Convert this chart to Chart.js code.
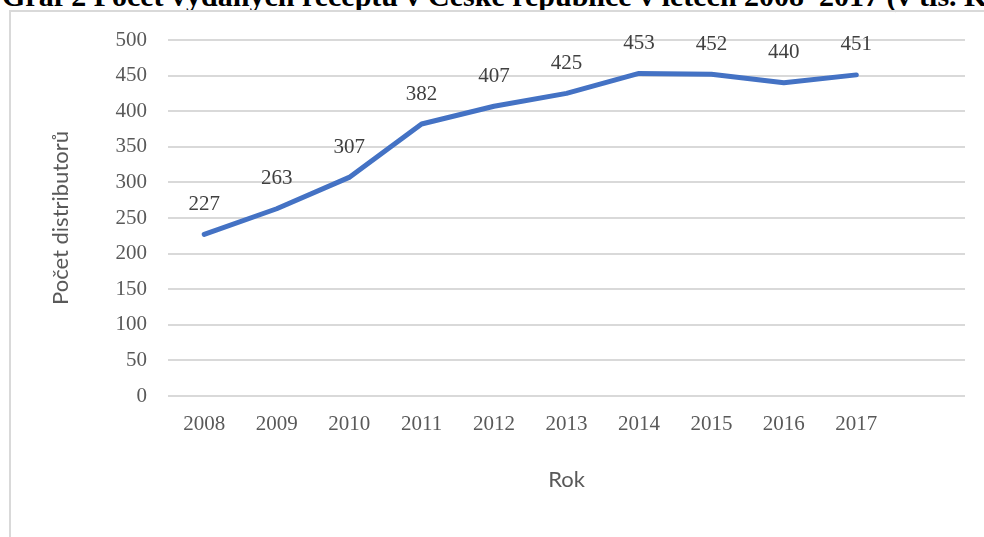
<!DOCTYPE html>
<html>
<head>
<meta charset="utf-8">
<script src="https://cdn.jsdelivr.net/npm/chart.js@4"></script>
<style>
	html, body { margin: 0; padding: 0; background: #fff; }
	#page { position: relative; width: 984px; height: 537px; overflow: hidden; }
	#heading {
		position: absolute; left: 2px; top: -19px; white-space: nowrap;
		font: bold 30px "Liberation Serif", serif; line-height: 30px; color: #000;
	}
	#frame {
		position: absolute; left: 9px; top: 10px; width: 1200px; height: 800px;
		border-left: 2px solid #d9d9d9; border-top: 2px solid #d9d9d9;
	}
	#wrap { position: absolute; left: 0; top: 0; width: 984px; height: 537px; }
</style>
</head>
<body>
<div id="page">
	<div id="heading">Graf 2 Počet vydaných receptů v České republice v letech 2008–2017 (v tis. Ks)</div>
	<div id="frame"></div>
	<div id="wrap"><canvas id="RecipeChart"></canvas></div>
</div>
<script>

// DATA

const years = ["2008", "2009", "2010", "2011", "2012", "2013", "2014", "2015", "2016", "2017", ""];
const recipes = [227, 263, 307, 382, 407, 425, 453, 452, 440, 451, null];
const yTicks = [0, 50, 100, 150, 200, 250, 300, 350, 400, 450, 500];

const yTitle = "Počet distributorů";
const xTitle = "Rok";


// value labels above the line

const valueLabels = {
	id: "valueLabels",
	afterDatasetsDraw(chart) {
		const ctx = chart.ctx;
		const meta = chart.getDatasetMeta(0);
		ctx.save();
		ctx.font = '21px "Liberation Serif", serif';
		ctx.fillStyle = "#404040";
		ctx.textAlign = "center";
		ctx.textBaseline = "middle";
		meta.data.forEach((pt, i) => {
			if (recipes[i] == null) return;
			ctx.fillText(String(recipes[i]), pt.x, pt.y - 30);
		});
		ctx.restore();
	},
};


new Chart(document.getElementById("RecipeChart"), {
	type: "line",
	data: {
		labels: years,
		datasets: [
			{
				data: recipes,
				borderColor: "#4472c4",
				borderWidth: 5,
				borderJoinStyle: "round",
				borderCapStyle: "round",
				pointRadius: 0,
				tension: 0,
				spanGaps: false,
			},
		],
	},
	options: {
		responsive: true,
		maintainAspectRatio: false,
		animation: false,
		layout: { padding: { top: 40, right: 19, left: 0, bottom: 0 } },
		plugins: {
			legend: { display: false },
			tooltip: { enabled: false },
		},
		scales: {
			x: {
				offset: true,
				grid: { display: false },
				border: { display: false },
				ticks: {
					color: "#595959",
					padding: 8,
					maxRotation: 0,
					autoSkip: false,
					font: { family: "Liberation Serif", size: 21 },
				},
				title: {
					display: true,
					text: xTitle,
					color: "#595959",
					font: { family: "Lato", size: 22 },
					padding: { top: 0, bottom: 44 },
				},
				afterFit(scale) { scale.height = 141; },
			},
			y: {
				min: 0,
				max: 500,
				afterBuildTicks(scale) { scale.ticks = yTicks.map((v) => ({ value: v })); },
				grid: {
					color: "#d9d9d9",
					lineWidth: 2,
					drawTicks: false,
				},
				border: { display: false },
				ticks: {
					color: "#595959",
					padding: 21,
					font: { family: "Liberation Serif", size: 21 },
				},
				title: {
					display: true,
					text: yTitle,
					color: "#595959",
					font: { family: "Lato", size: 22 },
					padding: { top: 48, bottom: 0 },
				},
				afterFit(scale) { scale.width = 168; },
			},
		},
	},
	plugins: [valueLabels],
});
</script>
</body>
</html>
